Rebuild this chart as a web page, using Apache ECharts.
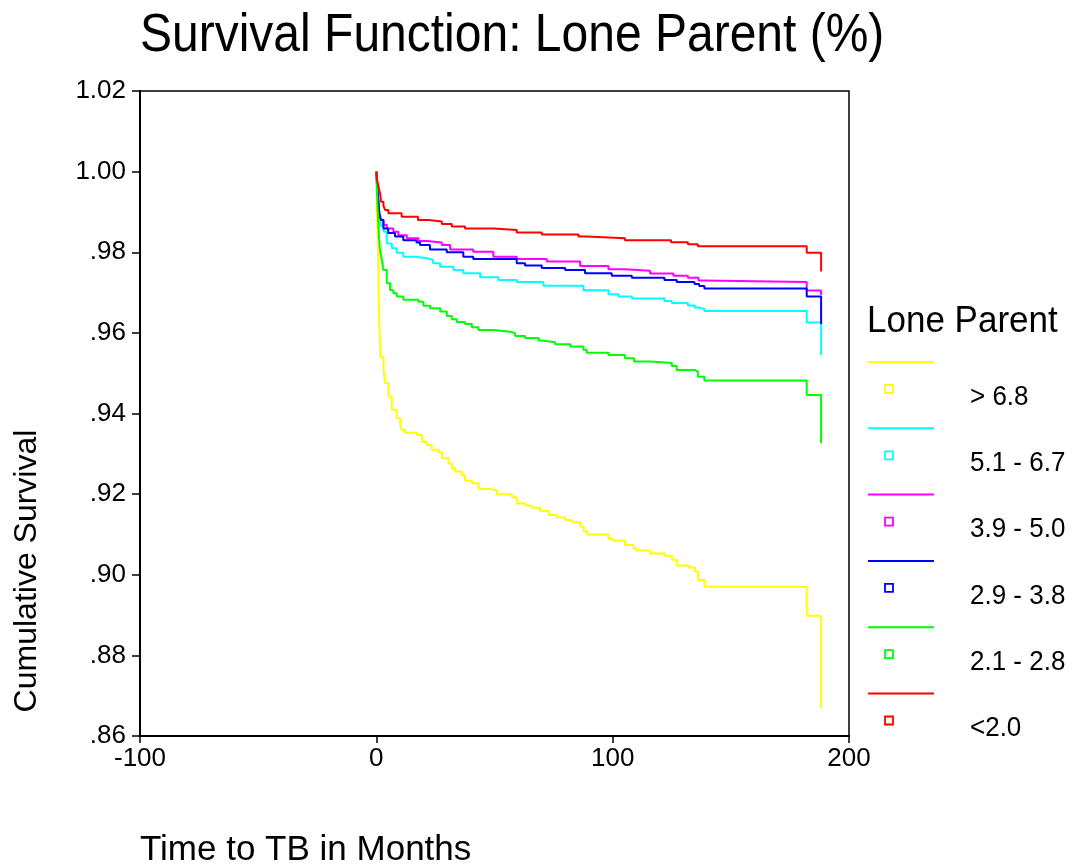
<!DOCTYPE html>
<html>
<head>
<meta charset="utf-8">
<script src="https://cdn.jsdelivr.net/npm/echarts@6/dist/echarts.min.js"></script>
<style>html,body{margin:0;padding:0;background:#fff;}#c{width:1076px;height:867px;}</style>
</head>
<body>
<div id="c"></div>
<script>
// ---- data (time in months, cumulative survival) ----
const groupNames = ['> 6.8', '5.1 - 6.7', '3.9 - 5.0', '2.9 - 3.8', '2.1 - 2.8', '<2.0'];
const groupColors = ['#ffff00', '#00ffff', '#ff00ff', '#0000ff', '#00ff00', '#ff0000'];

const survGT68 = [[0,1],[0.2,0.992],[0.5,0.985],[0.85,0.975],[1.2,0.963],[1.6,0.9541],[3.0,0.9508],[3.7,0.9475],[5.1,0.9442],[6.5,0.9409],[8.6,0.9388],[10,0.9375],[10.7,0.9359],[12.1,0.9352],[17.1,0.9347],[19.2,0.9330],[21.3,0.9322],[23.4,0.9310],[26.3,0.9303],[27.7,0.9289],[30.5,0.9276],[31.9,0.9264],[33.3,0.9256],[36.1,0.9247],[37.5,0.9233],[40.4,0.9227],[43.2,0.9213],[48.1,0.9209],[51,0.9200],[57.3,0.9192],[59.4,0.9177],[63,0.9172],[65.8,0.9166],[69.3,0.9158],[72.9,0.9148],[76.4,0.9142],[79.9,0.9136],[82.8,0.9130],[86.3,0.9119],[87.7,0.9107],[89.2,0.9100],[98.2,0.9090],[99.6,0.9085],[105.2,0.9074],[108.8,0.9066],[110,0.9060],[115.8,0.9053],[122,0.9047],[125,0.9037],[127.1,0.9023],[132,0.9018],[134.8,0.9008],[136,0.8987],[138.8,0.8970],[182.1,0.8898],[188.2,0.8669]];
const surv51to67 = [[0,1],[0.3,0.997],[0.8,0.993],[1.3,0.989],[2,0.9865],[3,0.9851],[4.4,0.9822],[6.5,0.9810],[8.6,0.9799],[11.4,0.9789],[16.4,0.9785],[21.3,0.9781],[24,0.9773],[27,0.9764],[32.6,0.9756],[36.8,0.9748],[43.9,0.9738],[51.6,0.9731],[59.4,0.9726],[70.7,0.9717],[87.6,0.9706],[98.2,0.9696],[102.4,0.9690],[108.1,0.9685],[121.9,0.9679],[125,0.9674],[131.8,0.9668],[134.6,0.9663],[136.6,0.9659],[138.8,0.9654],[182.1,0.9626],[188.2,0.9545]];
const surv39to50 = [[0,1],[0.3,0.997],[0.8,0.993],[1.3,0.9895],[2,0.988],[3,0.9868],[4.4,0.9859],[7.2,0.9851],[9.3,0.9842],[12.9,0.9835],[17.8,0.9828],[21.3,0.9824],[27.7,0.9818],[31.2,0.9807],[41,0.9801],[49.5,0.9789],[59.4,0.9783],[72.1,0.9777],[86.2,0.9766],[98.2,0.9758],[105.2,0.9754],[115.8,0.9747],[125.7,0.9742],[131.8,0.9737],[136.3,0.9730],[138.4,0.9726],[182.1,0.9705],[188.2,0.9694]];
const surv29to38 = [[0,1],[0.3,0.997],[0.8,0.993],[1.3,0.9895],[2,0.9880],[3,0.9859],[5,0.9848],[7.9,0.9839],[11.4,0.9830],[17,0.9824],[18.5,0.9818],[22.7,0.9807],[29.8,0.9800],[36.8,0.9789],[41,0.9783],[59.4,0.9773],[62.9,0.9767],[70,0.9761],[79.9,0.9756],[88.3,0.9748],[99.6,0.9742],[108.1,0.9737],[121.9,0.9731],[127.1,0.9726],[134.6,0.9721],[136.6,0.9716],[138.8,0.9710],[182.1,0.9690],[188.2,0.9622]];
const surv21to28 = [[0,1],[0.3,0.995],[0.6,0.99],[1.0,0.985],[1.5,0.9805],[2.3,0.9781],[3.0,0.9756],[4.4,0.9723],[5.8,0.9706],[7.2,0.9698],[8.6,0.9690],[11.4,0.9682],[17.8,0.9677],[19.9,0.9667],[22.7,0.9661],[27,0.9653],[29.8,0.9642],[31.9,0.9634],[34,0.9627],[37.5,0.9622],[40.4,0.9614],[43.2,0.9607],[49.5,0.9603],[56.6,0.9599],[58.7,0.9592],[62.9,0.9587],[68.6,0.9581],[70,0.9577],[75.6,0.9572],[82,0.9566],[87.6,0.9558],[89,0.9551],[98.2,0.9545],[105.2,0.9537],[109,0.9529],[115.8,0.9525],[125,0.9518],[127.1,0.9508],[134.6,0.9504],[136,0.9491],[138.8,0.9482],[182.1,0.9446],[188.2,0.9326]];
const survLT20 = [[0,1],[0.3,0.998],[0.8,0.9965],[1.6,0.9945],[2.0,0.9925],[3.0,0.9915],[3.7,0.9905],[5.1,0.9897],[10.7,0.9888],[17.6,0.9880],[22,0.9876],[27.7,0.9870],[31.9,0.9864],[37.5,0.9859],[49.5,0.9855],[59.4,0.9849],[70,0.9844],[85.5,0.9839],[89,0.9835],[105.2,0.9830],[124.7,0.9825],[131.8,0.9820],[136,0.9815],[182.1,0.9799],[188.2,0.9752]];

const seriesData = [survGT68, surv51to67, surv39to50, surv29to38, surv21to28, survLT20];
const xTicks = {min: -100, max: 200, interval: 100};
const yTicks = {min: 0.86, max: 1.02, interval: 0.02};

const FONT = 'Liberation Sans, Arial, Helvetica, sans-serif';
const chart = echarts.init(document.getElementById('c'), null, {renderer: 'canvas'});

// legend drawn with graphic elements
const legendGraphics = [];
const legX = 868, legY0 = 362, legStep = 66.3;
legendGraphics.push({type: 'text', x: 867, y: 322, scaleY: 1.08, style: {text: 'Lone Parent', font: '35px ' + FONT, fill: '#000', verticalAlign: 'middle', textVerticalAlign: 'middle'}});
groupNames.forEach((n, i) => {
  const y = legY0 + i * legStep;
  legendGraphics.push({type: 'line', shape: {x1: legX, y1: y, x2: legX + 66, y2: y}, style: {stroke: groupColors[i], lineWidth: 2}});
  legendGraphics.push({type: 'rect', shape: {x: legX + 17, y: y + 23, width: 8, height: 8}, style: {stroke: groupColors[i], fill: null, lineWidth: 1.8}});
  legendGraphics.push({type: 'text', x: 970, y: y + 35, scaleY: 1.08, style: {text: n, font: '26px ' + FONT, fill: '#000', textVerticalAlign: 'middle', verticalAlign: 'middle'}});
});

chart.setOption({
  animation: false,
  backgroundColor: '#fff',
  grid: {left: 140, top: 91, right: 227, bottom: 131, show: true, borderColor: '#000', borderWidth: 1.5, backgroundColor: 'transparent'},
  xAxis: {type: 'value', min: xTicks.min, max: xTicks.max, interval: xTicks.interval,
          axisLine: {show: true, onZero: false, lineStyle: {color: '#000', width: 2}},
          axisTick: {show: true, length: 7, lineStyle: {color: '#000', width: 1.5}},
          splitLine: {show: false},
          axisLabel: {fontFamily: FONT, fontSize: 26, color: '#000', margin: 10}},
  yAxis: {type: 'value', min: yTicks.min, max: yTicks.max, interval: yTicks.interval,
          axisLine: {show: true, onZero: false, lineStyle: {color: '#000', width: 2}},
          axisTick: {show: true, length: 8, lineStyle: {color: '#000', width: 1.5}},
          splitLine: {show: false},
          axisLabel: {fontFamily: FONT, fontSize: 26, color: '#000', margin: 14,
                      formatter: v => { const s = v.toFixed(2); return v < 1 ? s.replace(/^0/, '') : s; }}},
  graphic: [
    {type: 'text', x: 140, y: 36, scaleY: 1.1, style: {text: 'Survival Function: Lone Parent (%)', font: '48px ' + FONT, fill: '#000', verticalAlign: 'middle', textVerticalAlign: 'middle'}},
    {type: 'text', x: 140, y: 850, style: {text: 'Time to TB in Months', font: '35px ' + FONT, fill: '#000', verticalAlign: 'middle', textVerticalAlign: 'middle'}},
    {type: 'text', x: 27, y: 571, rotation: Math.PI / 2, style: {text: 'Cumulative Survival', font: '32px ' + FONT, fill: '#000', textAlign: 'center', textVerticalAlign: 'middle', align: 'center', verticalAlign: 'middle'}},
    ...legendGraphics
  ],
  series: seriesData.map((d, i) => ({
    name: groupNames[i], type: 'line', step: 'end', data: d, showSymbol: false, symbol: 'none',
    lineStyle: {color: groupColors[i], width: 2}, itemStyle: {color: groupColors[i]}, z: 2 + i
  }))
});
</script>
</body>
</html>
